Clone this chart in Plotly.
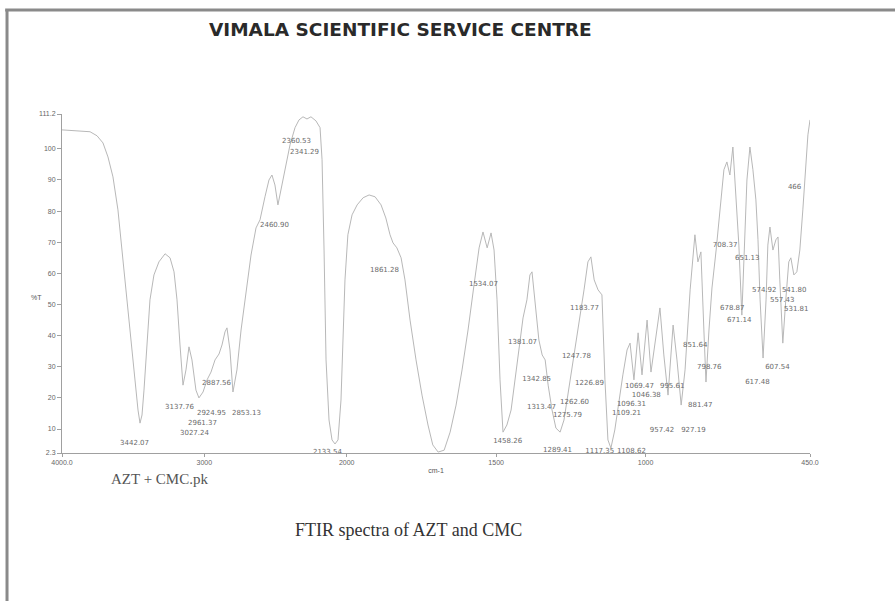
import numpy as np
import plotly.graph_objects as go

# ---------------- data ----------------
wavenumber = [
    4000, 3909, 3803, 3754, 3712, 3677, 3642, 3607, 3579, 3543,
    3515, 3487, 3466, 3452, 3438, 3424, 3403, 3382, 3354, 3319,
    3276, 3241, 3213, 3192, 3171, 3150, 3129, 3108, 3087, 3059,
    3038, 3009, 2981, 2953, 2925, 2897, 2876, 2855, 2841, 2820,
    2799, 2771, 2742, 2707, 2672, 2637, 2609, 2574, 2546, 2525,
    2504, 2483, 2461, 2433, 2398, 2363, 2335, 2307, 2279, 2251,
    2216, 2187, 2173, 2159, 2145, 2124, 2103, 2082, 2061, 2040,
    2026, 2012, 1996, 1982, 1965, 1945, 1925, 1905, 1885, 1869,
    1855, 1845, 1832, 1818, 1805, 1788, 1768, 1748, 1728, 1712,
    1694, 1674, 1654, 1634, 1614, 1594, 1574, 1557, 1544, 1530,
    1517, 1507, 1497, 1487, 1477, 1464, 1450, 1437, 1424, 1410,
    1397, 1387, 1380, 1370, 1357, 1346, 1336, 1326, 1313, 1300,
    1286, 1273, 1260, 1246, 1233, 1220, 1206, 1193, 1183, 1172,
    1159, 1146, 1136, 1126, 1116, 1103, 1089, 1076, 1062, 1052,
    1039, 1025, 1012, 995, 982, 969, 952, 939, 925, 908,
    895, 881, 868, 851, 835, 825, 815, 805, 798, 788,
    778, 764, 751, 738, 728, 718, 708, 698, 688, 678,
    671, 661, 651, 641, 631, 624, 617, 607, 597, 591,
    584, 574, 564, 557, 551, 541, 531, 521, 514, 504,
    494, 484, 474, 464, 457, 450,
]
transmittance = [
    106.1, 105.8, 105.5, 104.2, 101.9, 97.4, 91.0, 80.4, 67.5, 51.5,
    37.0, 24.1, 16.1, 11.9, 14.5, 22.5, 38.6, 51.5, 59.5, 63.7,
    66.3, 65.0, 60.5, 51.5, 37.0, 24.1, 29.0, 36.4, 32.2, 22.5,
    20.0, 21.9, 25.8, 28.3, 32.2, 34.1, 37.0, 41.2, 42.5, 35.4,
    21.9, 29.0, 41.8, 54.7, 65.9, 74.6, 77.2, 84.6, 90.0, 91.6,
    88.4, 82.0, 86.8, 93.9, 101.3, 106.8, 109.3, 110.3, 109.6, 110.3,
    109.0, 106.8, 96.5, 67.5, 32.2, 12.9, 6.5, 5.2, 6.5, 19.3,
    41.8, 57.9, 72.4, 78.8, 82.0, 84.3, 85.2, 84.6, 82.0, 77.8,
    72.4, 69.8, 68.2, 65.0, 57.9, 45.0, 32.2, 20.9, 11.3, 4.9,
    2.6, 3.2, 9.0, 17.7, 29.0, 41.8, 56.3, 68.2, 73.3, 68.2,
    73.0, 67.5, 51.5, 25.8, 9.0, 11.3, 16.1, 25.8, 37.0, 45.7,
    51.5, 59.5, 60.5, 51.5, 38.6, 33.8, 32.2, 24.1, 16.1, 10.3,
    9.0, 12.9, 20.9, 29.0, 37.0, 45.0, 54.7, 63.7, 65.3, 57.9,
    54.7, 53.1, 25.8, 6.5, 3.9, 9.7, 19.3, 27.4, 35.4, 37.6,
    25.8, 40.9, 27.4, 45.0, 28.3, 37.0, 48.9, 33.8, 20.9, 43.4,
    32.2, 17.7, 29.0, 54.7, 72.4, 63.7, 66.9, 41.8, 25.1, 41.8,
    55.3, 67.5, 80.4, 93.3, 95.8, 91.6, 100.6, 83.6, 69.1, 46.6,
    64.3, 90.0, 100.6, 93.3, 83.6, 70.8, 51.5, 32.8, 51.5, 69.1,
    74.9, 67.5, 70.8, 71.7, 57.9, 37.6, 51.5, 63.7, 65.0, 59.5,
    60.5, 67.5, 80.4, 96.5, 104.5, 109.3,
]

peak_text = [
    "3442.07", "3137.76", "2887.56", "2924.95", "2853.13", "2961.37", "3027.24",
    "2460.90", "2360.53", "2341.29", "2133.54", "1861.28", "1534.07", "1458.26",
    "1381.07", "1342.85", "1313.47", "1183.77", "1247.78", "1226.89", "1262.60",
    "1275.79", "1289.41", "1117.35", "1108.62", "1069.47", "995.61", "1046.38",
    "1109.21", "1096.31", "957.42", "927.19", "851.64", "798.76", "881.47",
    "708.37", "651.13", "678.87", "671.14", "607.54", "617.48", "574.92",
    "541.80", "557.43", "531.81", "466",
]
peak_wn = [
    3592, 3276, 3016, 3052, 2806, 3115, 3171,
    2609, 2454, 2398, 2237, 1922, 1591, 1510,
    1460, 1413, 1397, 1253, 1280, 1236, 1286,
    1310, 1343, 1202, 1096, 1069, 952, 1046,
    1112, 1096, 986, 881, 875, 828, 858,
    775, 701, 751, 728, 600, 667, 644,
    544, 584, 537, 524,
]
peak_T = [
    5.5, 17.1, 24.8, 15.1, 15.1, 11.9, 8.7,
    75.6, 102.3, 99.0, 2.6, 61.1, 56.6, 6.1,
    38.0, 26.1, 17.1, 48.9, 33.5, 24.8, 18.7,
    14.5, 3.2, 2.9, 2.9, 23.8, 23.8, 20.9,
    15.1, 18.0, 9.7, 9.7, 37.0, 29.9, 17.7,
    69.1, 65.0, 48.9, 45.0, 29.9, 25.1, 54.7,
    54.7, 51.5, 48.6, 87.8,
]

x_tick_wn = [4000, 3000, 2000, 1500, 1000, 450]
x_tick_text = ["4000.0", "3000", "2000", "1500", "1000", "450.0"]
y_tick_vals = [2.3, 10, 20, 30, 40, 50, 60, 70, 80, 90, 100, 111.2]
y_tick_text = ["2.3", "10", "20", "30", "40", "50", "60", "70", "80", "90", "100", "111.2"]


# The instrument plots the region below 2000 cm-1 on an expanded scale.
def scale_x(w):
    w = np.asarray(w, dtype=float)
    return np.where(w >= 2000, 4000 - w, 2000 + 2.1 * (2000 - w))


x_end = float(scale_x([450])[0])

fig = go.Figure()
fig.add_trace(go.Scatter(
    x=scale_x(wavenumber), y=transmittance, mode="lines",
    line=dict(color="#b8b8b8", width=1), hoverinfo="skip", showlegend=False,
))
fig.add_trace(go.Scatter(
    x=scale_x(peak_wn), y=peak_T, mode="text", text=peak_text,
    textposition="middle right",
    textfont=dict(family="DejaVu Sans", size=7, color="#6a6a6a"),
    hoverinfo="skip", showlegend=False,
))

# page frame
frame = dict(color="#8a8a8a", width=3)
fig.add_shape(type="line", xref="paper", yref="paper",
              x0=-0.076, x1=1.12, y0=1.307, y1=1.307, line=frame)
fig.add_shape(type="line", xref="paper", yref="paper",
              x0=-0.0735, x1=-0.0735, y0=1.307, y1=-0.45, line=frame)

fig.add_annotation(text="<b>VIMALA SCIENTIFIC SERVICE CENTRE</b>", xref="paper", yref="paper",
                   x=0.452, y=1.248, xanchor="center", yanchor="middle", showarrow=False,
                   font=dict(family="DejaVu Sans", size=18.5, color="#2a2a2a"))
fig.add_annotation(text="AZT + CMC.pk", xref="paper", yref="paper",
                   x=0.131, y=-0.078, xanchor="center", yanchor="middle", showarrow=False,
                   font=dict(family="Liberation Serif", size=15, color="#555555"))
fig.add_annotation(text="FTIR spectra of AZT and CMC", xref="paper", yref="paper",
                   x=0.463, y=-0.227, xanchor="center", yanchor="middle", showarrow=False,
                   font=dict(family="Liberation Serif", size=18, color="#333333"))
fig.add_annotation(text="%T", xref="paper", yref="paper",
                   x=-0.034, y=0.46, xanchor="center", yanchor="middle", showarrow=False,
                   font=dict(family="Liberation Sans", size=7, color="#555555"))

fig.update_xaxes(
    range=[0, x_end], tickmode="array", tickvals=scale_x(x_tick_wn), ticktext=x_tick_text,
    showgrid=False, zeroline=False, showline=True, linecolor="#a0a0a0", linewidth=1,
    ticks="outside", ticklen=3, tickcolor="#a0a0a0",
    tickfont=dict(family="Liberation Sans", size=7, color="#666666"),
    title=dict(text="cm-1", standoff=2, font=dict(family="Liberation Sans", size=7, color="#555555")),
)
fig.update_yaxes(
    range=[2.3, 111.2], tickmode="array", tickvals=y_tick_vals, ticktext=y_tick_text,
    showgrid=False, zeroline=False, showline=True, linecolor="#a0a0a0", linewidth=1,
    ticks="outside", ticklen=4, tickcolor="#a0a0a0",
    tickfont=dict(family="Liberation Sans", size=7, color="#666666"),
)
fig.update_layout(
    width=895, height=601, margin=dict(l=62, r=85, t=114, b=148),
    paper_bgcolor="white", plot_bgcolor="white", showlegend=False,
)
fig.write_html(
    "out.html",
    config={"displayModeBar": False},
    post_script="document.body.style.margin='0px';document.body.style.overflow='hidden';",
)
